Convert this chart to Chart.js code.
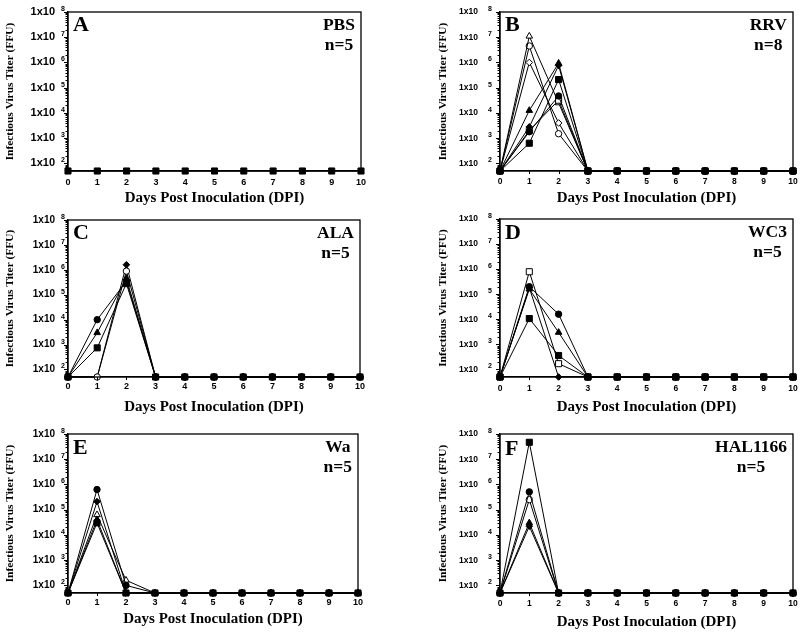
<!DOCTYPE html>
<html><head><meta charset="utf-8">
<script src="https://cdn.jsdelivr.net/npm/chart.js@4/dist/chart.umd.min.js"></script>
<style>
body{margin:0;background:#fff;width:800px;height:636px;position:relative;overflow:hidden}
canvas{position:absolute}
</style>
</head><body>
<canvas id="cA" width="400" height="210" style="left:0;top:0"></canvas>
<canvas id="cB" width="400" height="210" style="left:400px;top:0"></canvas>
<canvas id="cC" width="400" height="210" style="left:0;top:210px"></canvas>
<canvas id="cD" width="400" height="210" style="left:400px;top:210px"></canvas>
<canvas id="cE" width="400" height="216" style="left:0;top:420px"></canvas>
<canvas id="cF" width="400" height="216" style="left:400px;top:420px"></canvas>
<script>
// ---- axes ----
const days = [0,1,2,3,4,5,6,7,8,9,10];
const yTickExponents = [2,3,4,5,6,7,8];
const yTickValues = [1e2,1e3,1e4,1e5,1e6,1e7,1e8];
const yMin = 50, yMax = 1e8;   // detection limit ~50 FFU
const yTickText = '1x10';
const xTitle = 'Days Post Inoculation (DPI)';
const yTitle = 'Infectious Virus Titer (FFU)';

// ---- A: PBS (n=5) ----
const pbsMice = [50,50,50,50,50,50,50,50,50,50,50];

// ---- B: RRV (n=8) ----
const rrvOpenTriangle = [50,1.1e7,2.5e4,50,50,50,50,50,50,50,50];
const rrvOpenCircle   = [50,4.5e6,1.5e3,50,50,50,50,50,50,50,50];
const rrvOpenDiamond  = [50,1.0e6,4.0e3,50,50,50,50,50,50,50,50];
const rrvTriangle     = [50,1.25e4,9.3e5,50,50,50,50,50,50,50,50];
const rrvDiamond      = [50,2.8e3,7.6e5,50,50,50,50,50,50,50,50];
const rrvOpenSquare   = [50,2.0e3,3.2e4,50,50,50,50,50,50,50,50];
const rrvCircle       = [50,1.8e3,4.7e4,50,50,50,50,50,50,50,50];
const rrvSquare       = [50,6.3e2,2.1e5,50,50,50,50,50,50,50,50];

// ---- C: ALA (n=5) ----
const alaCircle     = [50,1.0e4,3.5e5,50,50,50,50,50,50,50,50];
const alaTriangle   = [50,3.0e3,4.5e5,50,50,50,50,50,50,50,50];
const alaSquare     = [50,7.4e2,2.8e5,50,50,50,50,50,50,50,50];
const alaOpenCircle = [50,50,8.9e5,50,50,50,50,50,50,50,50];
const alaDiamond    = [50,50,1.6e6,50,50,50,50,50,50,50,50];

// ---- D: WC3 (n=5) ----
const wc3OpenSquare = [50,7.9e5,1.7e2,50,50,50,50,50,50,50,50];
const wc3Circle     = [50,2.0e5,1.6e4,50,50,50,50,50,50,50,50];
const wc3Triangle   = [50,1.6e5,3.0e3,50,50,50,50,50,50,50,50];
const wc3Square     = [50,1.07e4,3.6e2,50,50,50,50,50,50,50,50];
const wc3Diamond    = [50,1.8e5,50,50,50,50,50,50,50,50,50];

// ---- E: Wa (n=5) ----
const waCircle       = [50,6.3e5,1.0e2,50,50,50,50,50,50,50,50];
const waDiamond      = [50,2.1e5,50,50,50,50,50,50,50,50,50];
const waOpenTriangle = [50,6.3e4,1.6e2,50,50,50,50,50,50,50,50];
const waTriangle     = [50,4.0e4,50,50,50,50,50,50,50,50,50];
const waSquare       = [50,3.0e4,50,50,50,50,50,50,50,50,50];

// ---- F: HAL1166 (n=5) ----
const halSquare     = [50,4.7e7,50,50,50,50,50,50,50,50,50];
const halCircle     = [50,5.1e5,50,50,50,50,50,50,50,50,50];
const halOpenCircle = [50,2.5e5,50,50,50,50,50,50,50,50,50];
const halTriangle   = [50,3.0e4,50,50,50,50,50,50,50,50,50];
const halDiamond    = [50,2.2e4,50,50,50,50,50,50,50,50,50];

const SHAPES = {
  square:{style:'rect', r:4.3},
  circle:{style:'circle', r:3.2},
  triangle:{style:'triangle', r:3.8},
  diamond:{style:'rectRot', r:3.3}
};
function ds(values, shape, filled){
  const s = SHAPES[shape];
  return {
    data: days.map((d,i)=>({x:d, y:values[i]})),
    borderColor:'#000', borderWidth:1,
    pointStyle:s.style, pointRadius:s.r,
    pointBackgroundColor: filled ? '#000' : '#fff',
    pointBorderColor:'#000', pointBorderWidth:1,
    clip:false, tension:0
  };
}

const panels = [
  {id:'cA', letter:'A', virus:'PBS', n:'n=5', pad:{left:0,top:12,right:39}, yW:68, xH:39,
   yTitlePad:3, yTickFont:11, yTickPad:13, expOff:5, xTickFont:9, xTickPad:6, xTitlePad:2.5, letterBase:19,
   sets:[ds(pbsMice,'square',true)]},
  {id:'cB', letter:'B', virus:'RRV', n:'n=8', pad:{left:0,top:12,right:7}, yW:100, xH:39,
   yTitlePad:36, yTickFont:8.5, yTickPad:22, expOff:10, xTickFont:8.5, xTickPad:6, xTitlePad:2.5, letterBase:19,
   sets:[ds(rrvSquare,'square',true), ds(rrvCircle,'circle',true), ds(rrvTriangle,'triangle',true),
         ds(rrvDiamond,'diamond',true), ds(rrvOpenSquare,'square',false), ds(rrvOpenTriangle,'triangle',false),
         ds(rrvOpenCircle,'circle',false), ds(rrvOpenDiamond,'diamond',false)]},
  {id:'cC', letter:'C', virus:'ALA', n:'n=5', pad:{left:0,top:10,right:40}, yW:68, xH:43,
   yTitlePad:3, yTickFont:10, yTickPad:13, expOff:5, xTickFont:9, xTickPad:4, xTitlePad:3.5, letterBase:19,
   sets:[ds(alaSquare,'square',true), ds(alaCircle,'circle',true), ds(alaTriangle,'triangle',true),
         ds(alaOpenCircle,'circle',false), ds(alaDiamond,'diamond',true)]},
  {id:'cD', letter:'D', virus:'WC3', n:'n=5', pad:{left:0,top:9,right:7}, yW:100, xH:43,
   yTitlePad:36, yTickFont:8.5, yTickPad:22, expOff:10, xTickFont:8.5, xTickPad:7, xTitlePad:3.5, letterBase:20,
   sets:[ds(wc3Square,'square',true), ds(wc3Circle,'circle',true), ds(wc3Triangle,'triangle',true),
         ds(wc3Diamond,'diamond',true), ds(wc3OpenSquare,'square',false)]},
  {id:'cE', letter:'E', virus:'Wa', n:'n=5', pad:{left:0,top:14,right:42}, yW:68, xH:43,
   yTitlePad:3, yTickFont:10, yTickPad:13, expOff:5, xTickFont:9, xTickPad:4, xTitlePad:7.5, letterBase:20,
   sets:[ds(waSquare,'square',true), ds(waCircle,'circle',true), ds(waTriangle,'triangle',true),
         ds(waDiamond,'diamond',true), ds(waOpenTriangle,'triangle',false)]},
  {id:'cF', letter:'F', virus:'HAL1166', n:'n=5', pad:{left:0,top:14,right:7}, yW:100, xH:43,
   yTitlePad:36, yTickFont:8.5, yTickPad:22, expOff:10, xTickFont:8.5, xTickPad:6, xTitlePad:4.5, letterBase:21,
   sets:[ds(halSquare,'square',true), ds(halCircle,'circle',true), ds(halTriangle,'triangle',true),
         ds(halDiamond,'diamond',true), ds(halOpenCircle,'circle',false)]}
];

function decorPlugin(p){
  return {
    id:'decor'+p.letter,
    afterDraw(chart){
      const {ctx, chartArea:a, scales:{x,y}} = chart;
      ctx.save();
      ctx.strokeStyle='#000';
      ctx.lineWidth=1.3;
      ctx.strokeRect(a.left, a.top, a.right-a.left, a.bottom-a.top);
      ctx.lineWidth=1;
      // y ticks (major + minor log ticks)
      ctx.beginPath();
      for(let e=1;e<=8;e++){
        for(let k=1;k<=9;k++){
          const v=k*Math.pow(10,e);
          if(v<yMin||v>yMax) continue;
          const py=Math.round(y.getPixelForValue(v))+0.5;
          const len = k===1?4:2.5;
          ctx.moveTo(a.left-len,py); ctx.lineTo(a.left,py);
        }
      }
      // x ticks
      days.forEach(d=>{
        const px=Math.round(x.getPixelForValue(d))+0.5;
        ctx.moveTo(px,a.bottom); ctx.lineTo(px,a.bottom+3);
      });
      ctx.stroke();
      // exponents
      ctx.fillStyle='#000';
      ctx.font='bold 7px "Liberation Sans", Arial, sans-serif';
      ctx.textAlign='center'; ctx.textBaseline='middle';
      yTickExponents.forEach((e,i)=>{
        const py=y.getPixelForValue(yTickValues[i]);
        ctx.fillText(String(e), a.left-p.expOff, py-3);
      });
      // panel letter
      ctx.font='bold 22px "Liberation Serif", "Times New Roman", serif';
      ctx.textAlign='left'; ctx.textBaseline='alphabetic';
      ctx.fillText(p.letter, a.left+5, a.top+p.letterBase);
      // virus + n
      ctx.font='bold 17.5px "Liberation Serif", "Times New Roman", serif';
      const w=Math.max(ctx.measureText(p.virus).width, ctx.measureText(p.n).width);
      const cx=a.right-6-w/2;
      ctx.textAlign='center';
      ctx.fillText(p.virus, cx, a.top+18);
      ctx.fillText(p.n, cx, a.top+38);
      ctx.restore();
    }
  };
}

panels.forEach(p=>{
  new Chart(document.getElementById(p.id), {
    type:'line',
    data:{datasets:p.sets},
    options:{
      responsive:false, animation:false, devicePixelRatio:1,
      layout:{padding:{left:p.pad.left, top:p.pad.top, right:p.pad.right, bottom:0}},
      plugins:{legend:{display:false}, tooltip:{enabled:false}},
      scales:{
        x:{type:'linear', min:0, max:10,
           afterBuildTicks:s=>{s.ticks=days.map(v=>({value:v}));},
           afterFit:s=>{s.height=p.xH; s.paddingLeft=0; s.paddingRight=0;},
           grid:{drawOnChartArea:false, drawTicks:false},
           border:{color:'#000', width:1.3},
           ticks:{color:'#000', padding:p.xTickPad, maxRotation:0, autoSkip:false,
                  font:{family:'"Liberation Sans", Arial, sans-serif', weight:'bold', size:p.xTickFont}},
           title:{display:true, text:xTitle, color:'#000', padding:{top:0,bottom:p.xTitlePad},
                  font:{family:'"Liberation Serif", "Times New Roman", serif', weight:'bold', size:15}}
        },
        y:{type:'logarithmic', min:yMin, max:yMax,
           afterBuildTicks:s=>{s.ticks=yTickValues.map(v=>({value:v}));},
           afterFit:s=>{s.width=p.yW; s.paddingTop=0; s.paddingBottom=0;},
           grid:{drawOnChartArea:false, drawTicks:false},
           border:{color:'#000', width:1.3},
           ticks:{color:'#000', padding:p.yTickPad, autoSkip:false, callback:()=>yTickText,
                  font:{family:'"Liberation Sans", Arial, sans-serif', weight:'bold', size:p.yTickFont}},
           title:{display:true, text:yTitle, color:'#000', padding:{top:p.yTitlePad,bottom:0},
                  font:{family:'"Liberation Serif", "Times New Roman", serif', weight:'bold', size:11.4}}
        }
      }
    },
    plugins:[decorPlugin(p)]
  });
});
</script>
</body></html>
